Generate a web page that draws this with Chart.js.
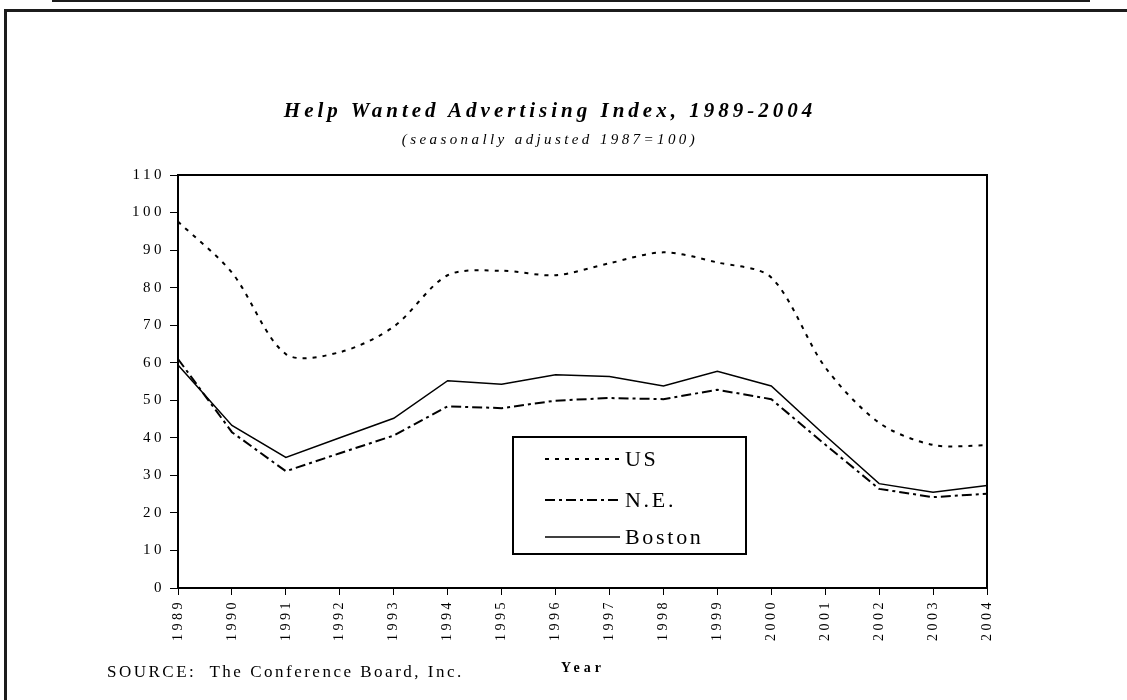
<!DOCTYPE html>
<html>
<head>
<meta charset="utf-8">
<script src="https://cdn.jsdelivr.net/npm/chart.js@4.4.1/dist/chart.umd.min.js"></script>
<style>
  body { margin: 0; background: #fff; }
  #wrap { position: relative; width: 1127px; height: 700px; overflow: hidden; background: #fff; }
  #myChart { position: absolute; left: 0; top: 0; }
  .topline { position: absolute; left: 52px; top: 0; width: 1038px; height: 2px; background: #1c1c1c; }
  .frame { position: absolute; left: 4px; top: 9px; width: 1200px; height: 800px;
           border-top: 3px solid #1c1c1c; border-left: 3px solid #1c1c1c; }
  .txt { position: absolute; color: #000; font-family: "Liberation Serif", "Times New Roman", serif; white-space: nowrap; }
  .title { left: 0; width: 1100px; text-align: center; top: 100px; font-size: 21px; line-height: 21px;
           font-weight: bold; font-style: italic; letter-spacing: 4px; }
  .subtitle { left: 0; width: 1100px; text-align: center; top: 132px; font-size: 15px; line-height: 15px;
              font-style: italic; letter-spacing: 3.4px; }
  .source { left: 107px; top: 663px; font-size: 17px; line-height: 17px; letter-spacing: 2.5px; }
  .xtitle { left: 561px; top: 661px; font-size: 14px; line-height: 14px; font-weight: bold; letter-spacing: 4px; }
</style>
</head>
<body>
<div id="wrap">
  <canvas id="myChart" width="1127" height="700"></canvas>
  <div class="topline"></div>
  <div class="frame"></div>
  <div class="txt title">Help Wanted Advertising Index, 1989-2004</div>
  <div class="txt subtitle">(seasonally adjusted 1987=100)</div>
  <div class="txt source">SOURCE:&nbsp; The Conference Board, Inc.</div>
  <div class="txt xtitle">Year</div>
</div>
<script>
const years = ['1989', '1990', '1991', '1992', '1993', '1994', '1995', '1996',
               '1997', '1998', '1999', '2000', '2001', '2002', '2003', '2004'];
const usValues = [97.6, 84.0, 62.3, 62.8, 69.6, 83.3, 84.5, 83.3, 86.5, 89.4, 86.7, 82.7, 58.8, 44.0, 38.1, 38.0];
const neValues = [61.0, 41.5, 31.1, 35.9, 40.6, 48.4, 47.9, 49.9, 50.6, 50.3, 52.8, 50.3, 38.2, 26.4, 24.2, 25.1];
const bostonValues = [59.4, 43.3, 34.8, 40.0, 45.2, 55.2, 54.3, 56.8, 56.3, 53.8, 57.7, 53.8, 40.6, 27.8, 25.5, 27.3];
const seriesNames = ['US', 'N.E.', 'Boston'];

const serif = '"Liberation Serif", "Times New Roman", serif';

// plot box on top and right, like the excel chart
const plotFrame = {
    id: 'plotFrame',
    beforeDraw(chart) {
        chart.ctx.letterSpacing = '3.5px';
    },
    afterDraw(chart) {
        const a = chart.chartArea;
        const ctx = chart.ctx;
        ctx.save();
        ctx.strokeStyle = '#000';
        ctx.lineWidth = 2;
        ctx.strokeRect(a.left, a.top, a.right - a.left, a.bottom - a.top);
        ctx.restore();
    }
};

// boxed legend sitting inside the plot
const boxLegend = {
    id: 'boxLegend',
    afterDraw(chart, args, opts) {
        const ctx = chart.ctx;
        ctx.save();
        ctx.fillStyle = '#fff';
        ctx.fillRect(opts.x, opts.y, opts.w, opts.h);
        ctx.strokeStyle = '#000';
        ctx.lineWidth = 2;
        ctx.strokeRect(opts.x, opts.y, opts.w, opts.h);
        ctx.font = opts.fontSize + 'px ' + serif;
        ctx.letterSpacing = opts.spacing + 'px';
        ctx.textBaseline = 'middle';
        ctx.fillStyle = '#000';
        chart.data.datasets.forEach((ds, i) => {
            const y = opts.rows[i];
            ctx.beginPath();
            ctx.setLineDash(ds.borderDash || []);
            ctx.lineWidth = ds.borderWidth;
            ctx.strokeStyle = ds.borderColor;
            ctx.moveTo(opts.lineStart, y);
            ctx.lineTo(opts.lineEnd, y);
            ctx.stroke();
            ctx.setLineDash([]);
            ctx.fillText(ds.label, opts.textX, y + 1);
        });
        ctx.restore();
    }
};

const ctx = document.getElementById('myChart');

new Chart(ctx, {
    type: 'line',
    data: {
        labels: years,
        datasets: [{
            label: seriesNames[0],
            data: usValues,
            borderColor: '#000',
            borderWidth: 2,
            borderDash: [4, 6],
            tension: 0.3,
            pointRadius: 0
        }, {
            label: seriesNames[1],
            data: neValues,
            borderColor: '#000',
            borderWidth: 2,
            borderDash: [10, 4, 3, 4],
            tension: 0,
            pointRadius: 0
        }, {
            label: seriesNames[2],
            data: bostonValues,
            borderColor: '#000',
            borderWidth: 1.5,
            tension: 0,
            pointRadius: 0
        }]
    },
    options: {
        responsive: false,
        maintainAspectRatio: false,
        animation: false,
        layout: {
            padding: { left: 118, right: 140, top: 175, bottom: 52 }
        },
        plugins: {
            legend: { display: false },
            tooltip: { enabled: false },
            title: { display: false },
            boxLegend: {
                x: 513, y: 437, w: 233, h: 117,
                rows: [459, 500, 537],
                lineStart: 545, lineEnd: 620, textX: 625,
                fontSize: 22, spacing: 2.7
            }
        },
        scales: {
            x: {
                offset: false,
                grid: { drawOnChartArea: false, drawTicks: true, tickLength: 7, color: '#000', lineWidth: 1 },
                border: { display: true, color: '#000', width: 2 },
                ticks: {
                    autoSkip: false,
                    minRotation: 90,
                    maxRotation: 90,
                    padding: 4,
                    color: '#000',
                    font: { family: serif, size: 14 }
                },
                afterFit(scale) { scale.height = 60; }
            },
            y: {
                min: 0,
                max: 110,
                grid: { drawOnChartArea: false, drawTicks: true, tickLength: 8, color: '#000', lineWidth: 1 },
                border: { display: true, color: '#000', width: 2 },
                ticks: {
                    stepSize: 10,
                    padding: 5,
                    color: '#000',
                    font: { family: serif, size: 15 }
                },
                afterFit(scale) { scale.width = 60; }
            }
        }
    },
    plugins: [plotFrame, boxLegend]
});
</script>
</body>
</html>
